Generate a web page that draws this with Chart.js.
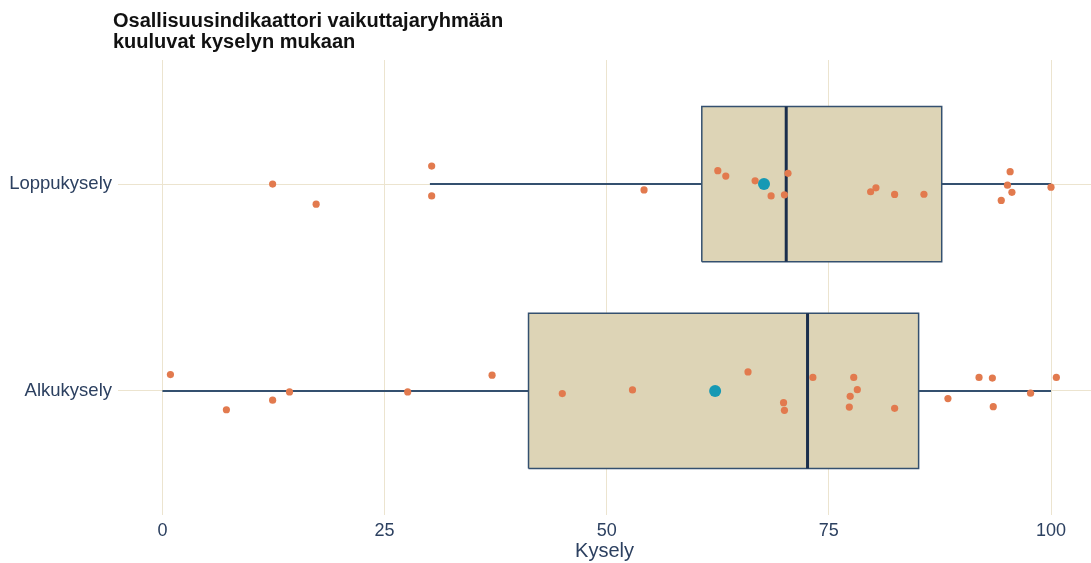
<!DOCTYPE html>
<html><head><meta charset="utf-8">
<script src="https://cdn.jsdelivr.net/npm/chart.js@4.4.1/dist/chart.umd.min.js"></script>
<style>html,body{margin:0;padding:0;background:#fff}#wrap{width:1091px;height:563px;position:relative}</style>
</head><body><div id="wrap"><canvas id="c" width="1091" height="563"></canvas></div>
<script>
const titleLines = ['Osallisuusindikaattori vaikuttajaryhmään', 'kuuluvat kyselyn mukaan'];
const categories = ['Alkukysely', 'Loppukysely'];
const xTicks = [0, 25, 50, 75, 100];
const xTitle = 'Kysely';

// box statistics per category (same order as categories)
const q1 = [41.2, 60.7];
const median = [72.6, 70.2];
const q3 = [85.1, 87.7];
const whiskerLow = [0, 30.1];
const whiskerHigh = [100, 100];
const means = [62.2, 67.7];

// individual (jittered) observations
const alkuValues = [0.9, 7.2, 12.4, 14.3, 27.6, 37.1, 45.0, 52.9, 65.9, 69.9, 70.0, 73.2, 77.8, 78.2, 77.4, 77.3, 82.4, 88.4, 91.9, 93.4, 93.5, 97.7, 100.6];
const alkuJitter = [0.079, -0.091, -0.045, -0.005, -0.005, 0.076, -0.013, 0.005, 0.092, -0.057, -0.094, 0.065, 0.065, 0.006, -0.026, -0.078, -0.084, -0.037, 0.065, 0.062, -0.076, -0.011, 0.065];
const loppuValues = [12.4, 17.3, 30.3, 30.3, 54.2, 62.5, 63.4, 66.7, 68.5, 70.4, 70.0, 79.7, 80.3, 82.4, 85.7, 95.4, 95.1, 95.6, 94.4, 100.0];
const loppuJitter = [0.0, -0.097, 0.087, -0.057, -0.028, 0.065, 0.039, 0.016, -0.057, 0.052, -0.052, -0.037, -0.018, -0.05, -0.049, 0.06, -0.005, -0.04, -0.079, -0.015];

const BOX_HALF = 0.375;
const TEXT = '#2c4060';
const GRID = '#ece4cf';
const BOX_FILL = '#ddd4b6';
const BOX_EDGE = '#34506f';
const MEDIAN_C = '#1a2e4c';
const WHISK = '#34506f';
const PT = '#e27a4e';
const MEAN_C = '#1699b4';

const datasets = [];
const obs = [alkuValues, loppuValues];
const jit = [alkuJitter, loppuJitter];

datasets.push({
  order: 0, data: means.map((m, i) => ({x: m, y: i + 1})),
  pointRadius: 6, pointBackgroundColor: MEAN_C, pointBorderWidth: 0, showLine: false
});
datasets.push({
  order: 1,
  data: obs.flatMap((arr, i) => arr.map((v, k) => ({x: v, y: i + 1 + jit[i][k]}))),
  pointRadius: 3.6, pointBackgroundColor: PT, pointBorderWidth: 0, showLine: false
});
categories.forEach((c, i) => {
  const y = i + 1;
  datasets.push({
    order: 2, showLine: true, pointRadius: 0, borderColor: MEDIAN_C, borderWidth: 3, tension: 0,
    data: [{x: median[i], y: y - BOX_HALF}, {x: median[i], y: y + BOX_HALF}]
  });
  datasets.push({
    order: 3, showLine: true, pointRadius: 0, borderColor: BOX_EDGE, borderWidth: 1.5, tension: 0,
    backgroundColor: BOX_FILL, fill: 'shape',
    data: [{x: q1[i], y: y - BOX_HALF}, {x: q3[i], y: y - BOX_HALF}, {x: q3[i], y: y + BOX_HALF}, {x: q1[i], y: y + BOX_HALF}, {x: q1[i], y: y - BOX_HALF}]
  });
  datasets.push({
    order: 4, showLine: true, pointRadius: 0, borderColor: WHISK, borderWidth: 2, tension: 0,
    data: [{x: whiskerLow[i], y: y}, {x: q1[i], y: y}]
  });
  datasets.push({
    order: 4, showLine: true, pointRadius: 0, borderColor: WHISK, borderWidth: 2, tension: 0,
    data: [{x: q3[i], y: y}, {x: whiskerHigh[i], y: y}]
  });
});

const titlePlugin = {
  id: 'titleText',
  afterDraw(chart) {
    const ctx = chart.ctx;
    ctx.save();
    ctx.font = 'bold 20px "Liberation Sans", Arial, sans-serif';
    ctx.fillStyle = '#111111';
    ctx.textBaseline = 'alphabetic';
    ctx.textAlign = 'left';
    titleLines.forEach((t, i) => ctx.fillText(t, 113, 27 + i * 21));
    ctx.restore();
  }
};

new Chart(document.getElementById('c'), {
  type: 'scatter',
  data: {datasets},
  plugins: [titlePlugin],
  options: {
    responsive: false, animation: false,
    layout: {autoPadding: false, padding: {top: 60, left: 0, right: 0, bottom: 0}},
    plugins: {legend: {display: false}, tooltip: {enabled: false}, title: {display: false}},
    scales: {
      x: {
        type: 'linear', min: -5, max: 104.5,
        afterBuildTicks: s => { s.ticks = xTicks.map(v => ({value: v})); },
        afterFit: s => { s.height = 48; s.paddingLeft = 0; s.paddingRight = 0; },
        grid: {color: GRID, lineWidth: 1, drawTicks: false},
        border: {display: false},
        ticks: {color: TEXT, font: {family: '"Liberation Sans", Arial, sans-serif', size: 18}, padding: 5},
        title: {display: true, text: xTitle, color: TEXT, font: {family: '"Liberation Sans", Arial, sans-serif', size: 20}, padding: {top: 0, bottom: 0}}
      },
      y: {
        type: 'linear', min: 0.4, max: 2.6,
        afterBuildTicks: s => { s.ticks = categories.map((c, i) => ({value: i + 1})); },
        afterFit: s => { s.width = 118; s.paddingTop = 0; s.paddingBottom = 0; },
        grid: {color: GRID, lineWidth: 1, drawTicks: false},
        border: {display: false},
        ticks: {color: TEXT, font: {family: '"Liberation Sans", Arial, sans-serif', size: 18.5}, padding: 6,
          callback: v => categories[Math.round(v) - 1]}
      }
    }
  }
});
</script></body></html>
